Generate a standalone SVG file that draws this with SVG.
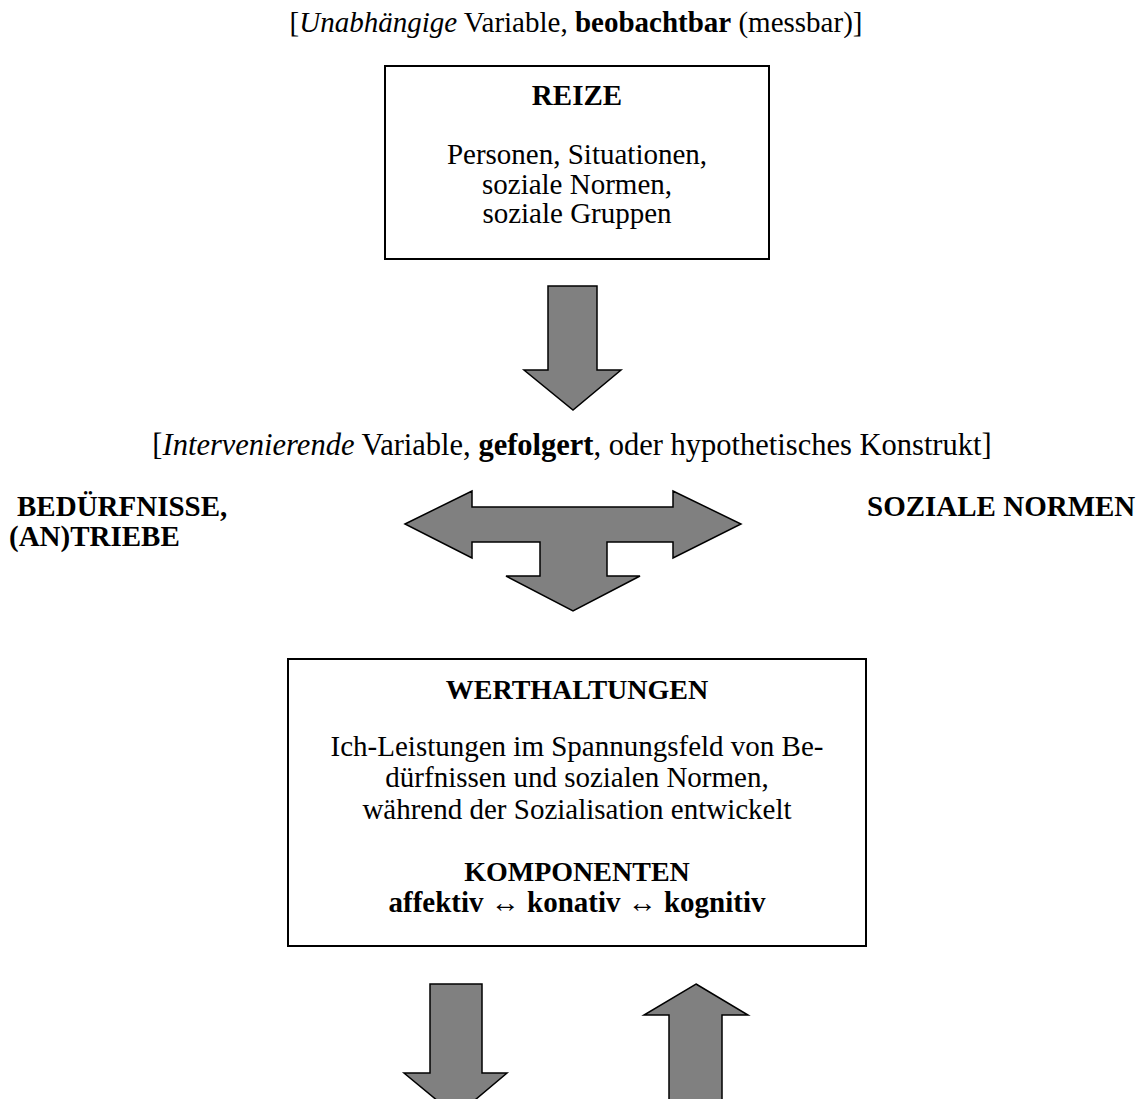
<svg xmlns="http://www.w3.org/2000/svg" width="1143" height="1099" viewBox="0 0 1143 1099">
<style>
text{font-family:"Liberation Serif","Times New Roman",serif;font-size:29px;fill:#000}
.c{text-anchor:middle}
.b{font-weight:bold}
.i{font-style:italic}
.h2{font-size:30.5px}
.t2{font-size:28px}
.box{fill:#fff;stroke:#000;stroke-width:2}
.arr{fill:#808080;stroke:#000;stroke-width:1.5;stroke-linejoin:miter}
</style>
<rect width="1143" height="1099" fill="#fff"/>
<g id="label-unabhaengig">
<text class="c" x="576" y="32">[<tspan class="i">Unabhängige</tspan> Variable, <tspan class="b">beobachtbar</tspan> (messbar)]</text>
</g>
<g id="node-reize">
<rect class="box" x="385" y="66" width="384" height="193"/>
<text class="c b" x="577" y="105">REIZE</text>
<text class="c" x="577" y="164">Personen, Situationen,</text>
<text class="c" x="577" y="194">soziale Normen,</text>
<text class="c" x="577" y="223">soziale Gruppen</text>
</g>
<g id="label-intervenierend">
<text class="c h2" x="572" y="455">[<tspan class="i">Intervenierende</tspan> Variable, <tspan class="b">gefolgert</tspan>, oder hypothetisches Konstrukt]</text>
</g>
<g id="node-beduerfnisse">
<text class="b" x="17" y="516">BEDÜRFNISSE,</text>
<text class="b" x="9" y="546">(AN)TRIEBE</text>
</g>
<g id="node-soziale-normen">
<text class="b" x="867" y="516">SOZIALE NORMEN</text>
</g>
<g id="node-werthaltungen">
<rect class="box" x="288" y="659" width="578" height="287"/>
<text class="c b t2" x="577" y="699">WERTHALTUNGEN</text>
<text class="c" x="577" y="756">Ich-Leistungen im Spannungsfeld von Be-</text>
<text class="c" x="577" y="787">dürfnissen und sozialen Normen,</text>
<text class="c" x="577" y="819">während der Sozialisation entwickelt</text>
<text class="c b t2" x="577" y="881">KOMPONENTEN</text>
<text class="c b" x="577" y="912">affektiv ↔ konativ ↔ kognitiv</text>
</g>
<g id="connectors">
<polygon class="arr" points="548,286 597,286 597,370 621,370 573,410 524,370 548,370"/>
<polygon class="arr" points="405,524 472,491 472,507 673,507 673,491 741,524 673,558 673,542 607,542 607,576 640,576 573,611 506,576 540,576 540,542 472,542 472,558"/>
<polygon class="arr" points="430,984 482,984 482,1073 507,1073 456,1116 404,1073 430,1073"/>
<polygon class="arr" points="696,984 748,1015 722,1015 722,1110 669,1110 669,1015 644,1015"/>
</g>
</svg>
